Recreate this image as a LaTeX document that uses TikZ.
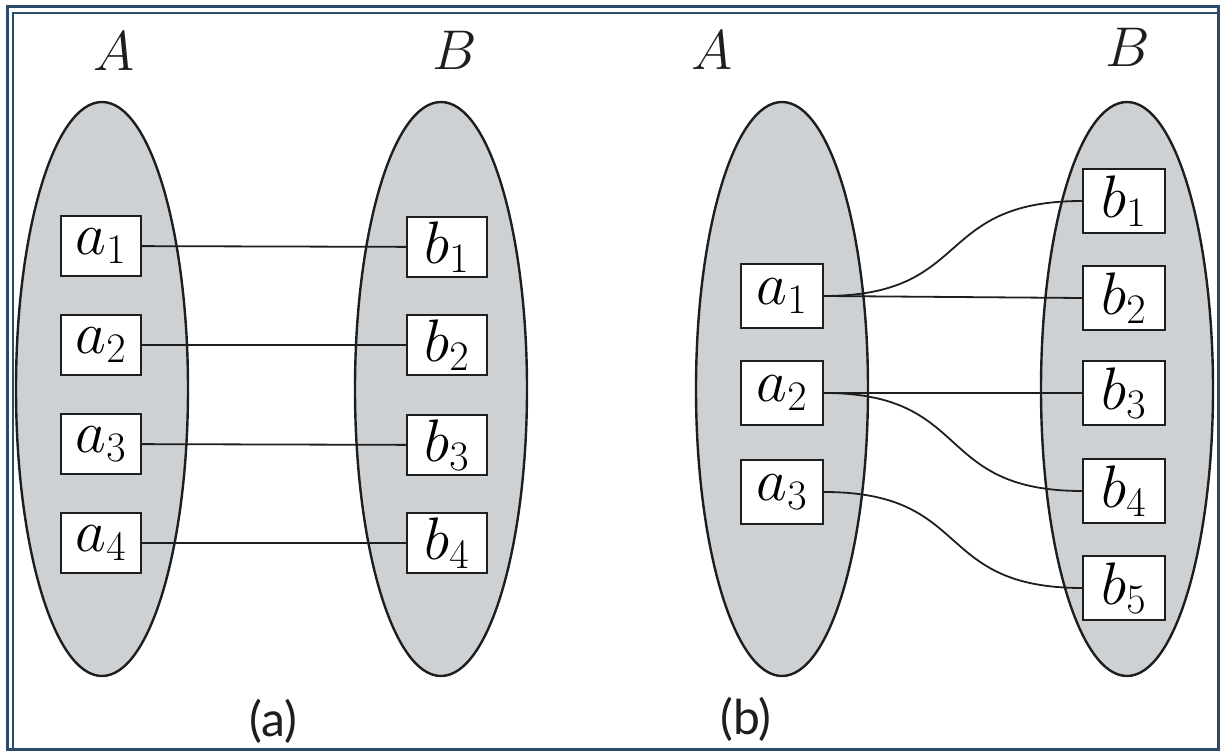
\RequirePackage{fix-cm}
\documentclass[tikz,border=0pt]{standalone}
\usepackage{fontspec}
\newfontfamily\capfont{Lato}
\usepackage{tikz}
\usetikzlibrary{shapes.geometric}
\definecolor{framenavy}{HTML}{2B4B6B}
\definecolor{setgray}{HTML}{CDD1D4}
\definecolor{inkgray}{HTML}{1E1E1E}
\tikzset{
  setshape/.style={ellipse, draw=inkgray, line width=1.2pt, fill=setgray, minimum width=86pt, minimum height=287pt, inner sep=0pt},
  elem/.style={draw=inkgray, line width=0.9pt, fill=white, minimum width=40pt, minimum height=30pt, inner sep=0pt, font=\fontsize{30}{34}\selectfont},
  elemb/.style={elem, minimum width=41pt, minimum height=32pt},
  setname/.style={inner sep=0pt, font=\fontsize{28}{32}\selectfont, text=inkgray},
  caption/.style={inner sep=0pt, font=\capfont\fontsize{24}{28}\selectfont, text=inkgray},
  link/.style={draw=inkgray, line width=0.9pt}
}

\begin{document}
\begin{tikzpicture}[x=0.5pt, y=-0.5pt]
  \useasboundingbox (0,0) rectangle (1223,753);
  % frame
  \draw[framenavy, line width=1.5pt] (7,7) rectangle (1218,750);
  \draw[framenavy, line width=0.6pt] (13,750) -- (13,13) -- (1218,13);

  % (a) one-to-one
  \node[setname] (nameAa) at (114,51) {$A$};
  \node[setname] (nameBa) at (455,50) {$B$};
  \node[setshape] (setAa) at (102,389) {};
  \node[setshape] (setBa) at (441,389) {};
  \node[elem] (a1) at (101,246) {$a_1$};
  \node[elem] (a2) at (101,345) {$a_2$};
  \node[elem] (a3) at (101,444) {$a_3$};
  \node[elem] (a4) at (101,543) {$a_4$};
  \node[elem] (b1) at (447,247) {$b_1$};
  \node[elem] (b2) at (447,345) {$b_2$};
  \node[elem] (b3) at (447,445) {$b_3$};
  \node[elem] (b4) at (447,543) {$b_4$};
  \draw[link] (a1) -- (b1);
  \draw[link] (a2) -- (b2);
  \draw[link] (a3) -- (b3);
  \draw[link] (a4) -- (b4);
  \node[caption] (capa) at (273,721) {(a)};

  % (b) one-to-many
  \node[setname] (nameAb) at (712,50) {$A$};
  \node[setname] (nameBb) at (1128,47) {$B$};
  \node[setshape] (setAb) at (782,389) {};
  \node[setshape] (setBb) at (1127,389) {};
  \node[elemb] (ba1) at (782,296) {$a_1$};
  \node[elemb] (ba2) at (782,393) {$a_2$};
  \node[elemb] (ba3) at (782,492) {$a_3$};
  \node[elemb] (bb1) at (1124,201) {$b_1$};
  \node[elemb] (bb2) at (1124,298) {$b_2$};
  \node[elemb] (bb3) at (1124,393) {$b_3$};
  \node[elemb] (bb4) at (1124,491) {$b_4$};
  \node[elemb] (bb5) at (1124,588) {$b_5$};
  \draw[link] (ba1.east) .. controls +(150,0) and +(-150,0) .. (bb1.west);
  \draw[link] (ba1.east) -- (bb2.west);
  \draw[link] (ba2.east) -- (bb3.west);
  \draw[link] (ba2.east) .. controls +(150,0) and +(-150,0) .. (bb4.west);
  \draw[link] (ba3.east) .. controls +(150,0) and +(-150,0) .. (bb5.west);
  \node[caption] (capb) at (746,719) {(b)};
\end{tikzpicture}
\end{document}
